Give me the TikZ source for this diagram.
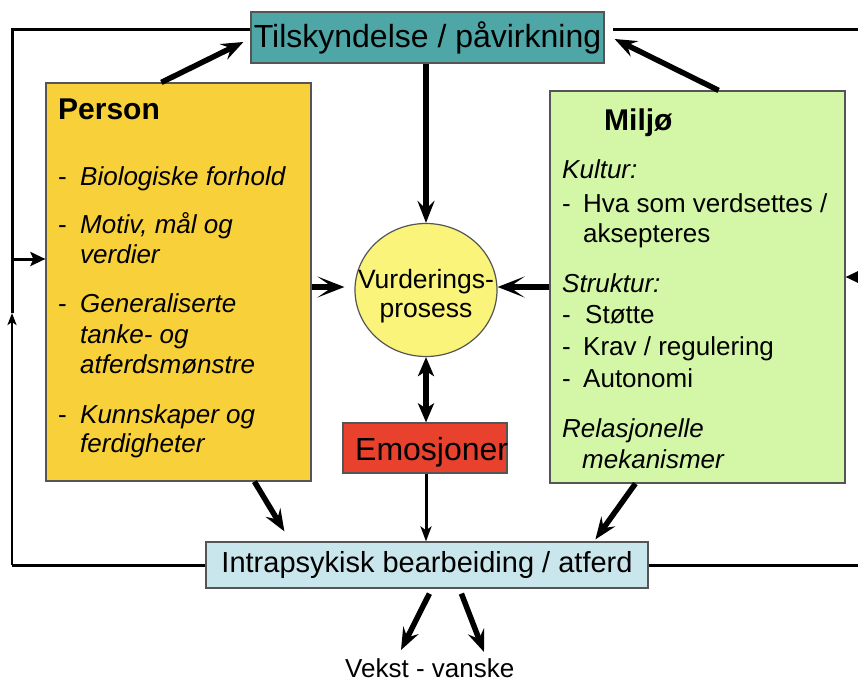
\documentclass[tikz,border=0pt]{standalone}
\usepackage{fontspec}
\setmainfont{Liberation Sans}
\usetikzlibrary{arrows.meta,shapes.geometric,calc}
\definecolor{teal1}{HTML}{4EA6A6}
\definecolor{gold1}{HTML}{F8D13A}
\definecolor{green1}{HTML}{D3F7A6}
\definecolor{yell1}{HTML}{FBF47A}
\definecolor{red1}{HTML}{E8422F}
\definecolor{blue1}{HTML}{C9E6EC}
\definecolor{edge1}{HTML}{555555}
\tikzset{
  boxnode/.style={draw=edge1, line width=1.2pt, inner sep=0pt, minimum width=#1},
  txt/.style={anchor=base west, inner sep=0pt, font=\fontsize{26}{30}\selectfont},
  itxt/.style={txt, font=\fontsize{26}{30}\selectfont\itshape},
  btxt/.style={txt, font=\fontsize{30}{34}\selectfont\bfseries},
  framel/.style={line width=3pt, line join=miter},
  thickarr/.style={line width=5.5pt, -{Stealth[length=22pt,width=17pt,inset=8pt]}},
  sidearr/.style={line width=5.5pt, -{Stealth[length=27pt,width=21pt,inset=15pt]}},
  thinarr/.style={line width=3pt, -{Stealth[length=15pt,width=11pt,inset=4pt]}},
  framearr/.style={line width=3pt, -{Stealth[length=15pt,width=14pt,inset=3pt]}},
  smallarr/.style={line width=2.5pt, -{Stealth[length=12pt,width=9pt,inset=3pt]}},
  dblarr/.style={line width=5.5pt, {Stealth[length=19pt,width=16pt,inset=5pt]}-{Stealth[length=19pt,width=16pt,inset=5pt]}}
}
\begin{document}
\begin{tikzpicture}[x=1pt,y=-1pt]
\useasboundingbox (0,0) rectangle (858,682);
\clip (0,0) rectangle (858,682);
\fill[white] (0,0) rectangle (858,682);

% boxes
\node[boxnode=353pt, minimum height=51pt, fill=teal1, font=\fontsize{32}{36}\selectfont] (top) at (427.5,37.5) {Tilskyndelse / påvirkning};
\node[boxnode=265pt, minimum height=398pt, fill=gold1] (person) at (178.5,282) {};
\node[boxnode=295pt, minimum height=392pt, fill=green1] (miljo) at (697.5,287) {};
\node[draw=edge1, line width=1.2pt, ellipse, inner sep=0pt, minimum width=142pt, minimum height=133pt, fill=yell1] (circ) at (426,290) {};
\node[align=center, inner sep=0pt, font=\fontsize{26.5}{29}\selectfont] (circtxt) at (426,296) {Vurderings-\\prosess};
\node[boxnode=164pt, minimum height=50pt, fill=red1] (emo) at (425,448) {};
\node[anchor=base west, inner sep=0pt, font=\fontsize{32}{36}\selectfont] (emotxt) at (355,460) {Emosjoner};
\node[boxnode=442pt, minimum height=46pt, fill=blue1, font=\fontsize{29}{33}\selectfont] (bot) at (427,565) {Intrapsykisk bearbeiding / atferd};
\node[anchor=base west, inner sep=0pt, font=\fontsize{26}{30}\selectfont] (vekst) at (345,677) {Vekst - vanske};

% Person text
\node[btxt] (ph) at (58,120) {Person};
\node[txt] (pd1) at (58,185) {-};
\node[itxt] (p1) at (80,185) {Biologiske forhold};
\node[txt] (pd2) at (58,233) {-};
\node[itxt] (p2a) at (80,233) {Motiv, mål og};
\node[itxt] (p2b) at (80,263) {verdier};
\node[txt] (pd3) at (58,312) {-};
\node[itxt] (p3a) at (80,312) {Generaliserte};
\node[itxt] (p3b) at (80,343) {tanke- og};
\node[itxt] (p3c) at (80,373) {atferdsmønstre};
\node[txt] (pd4) at (58,423) {-};
\node[itxt] (p4a) at (80,423) {Kunnskaper og};
\node[itxt] (p4b) at (80,452) {ferdigheter};

% Miljo text
\node[btxt] (mh) at (604,130) {Miljø};
\node[itxt] (mk) at (562,178) {Kultur:};
\node[txt] (md1) at (562,212) {-};
\node[txt] (m1a) at (583,212) {Hva som verdsettes /};
\node[txt] (m1b) at (583,242) {aksepteres};
\node[itxt] (ms) at (562,292) {Struktur:};
\node[txt] (md2) at (562,323) {-};
\node[txt] (m2) at (585,323) {Støtte};
\node[txt] (md3) at (562,355) {-};
\node[txt] (m3) at (583,355) {Krav / regulering};
\node[txt] (md4) at (562,387) {-};
\node[txt] (m4) at (583,387) {Autonomi};
\node[itxt] (mr1) at (562,437) {Relasjonelle};
\node[itxt] (mr2) at (582,468) {mekanismer};

% frame lines
\coordinate (lb) at (12,565);
\coordinate (lm) at (12,313);
\coordinate (lt) at (12,30);
\coordinate (lp) at (12,259);
\coordinate (rb) at (875,565);
\coordinate (rt) at (875,30);
\coordinate (rp) at (875,277);
\draw[framel] (bot.west) -- (lb);
\draw[smallarr] (lb) -- (lm);
\draw[framel] (lm) -- (lt) -- ($(top.west)+(0,7.5pt)$);
\draw[framearr] (lp) -- (lp -| person.west);
\draw[framel] (bot.east) -- (rb) -- (rt) -- ($(top.east)+(8pt,7.5pt)$);
\draw[framearr] (rp) -- (rp -| miljo.east);

% arrows
\draw[thickarr] ([xshift=116pt]person.north west) -- ([xshift=-7pt,yshift=-4.5pt]top.west);
\draw[thickarr] ([xshift=-127pt]miljo.north east) -- ([xshift=10pt,yshift=-1.5pt]top.east);
\draw[thickarr] (circ.north |- top.south) -- (circ.north);
\draw[sidearr] ([yshift=-5pt]person.east) -- ([xshift=-10pt,yshift=3pt]circ.west);
\draw[sidearr] (miljo.west) -- ([yshift=3pt]circ.east);
\draw[dblarr] (circ.south) -- (circ.south |- emo.north);
\draw[thinarr] (emo.south -| circ.south) -- (circ.south |- bot.north);
\draw[thickarr] ([xshift=209pt]person.south west) -- ([xshift=79pt,yshift=10pt]bot.north west);
\draw[thickarr] ([xshift=86pt]miljo.south west) -- ([xshift=390pt,yshift=2pt]bot.north west);
\coordinate (tipL) at (401,650);
\coordinate (tipR) at (484,652);
\draw[thickarr] ([xshift=224pt,yshift=-5pt]bot.south west) -- (tipL);
\draw[thickarr] ([xshift=256pt,yshift=-5pt]bot.south west) -- (tipR);
\end{tikzpicture}
\end{document}
